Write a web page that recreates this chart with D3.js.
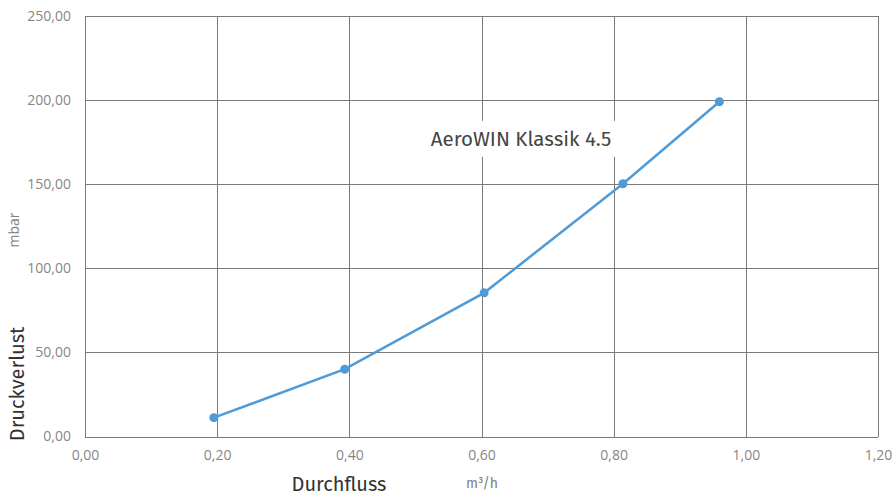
<!DOCTYPE html>
<html>
<head>
<meta charset="utf-8">
<script src="https://cdn.jsdelivr.net/npm/d3@7"></script>
<style>
  html, body { margin: 0; padding: 0; background: #fff; }
  svg { display: block; }
</style>
</head>
<body>
<svg id="chart" width="893" height="500"></svg>
<script>
// Flow rate (m³/h) against pressure loss (mbar)
const flow = [0.195, 0.393, 0.604, 0.814, 0.960];
const pressure = [11.2, 40.0, 85.4, 150.3, 199.0];
const xTicks = [0, 0.2, 0.4, 0.6, 0.8, 1.0, 1.2];
const yTicks = [0, 50, 100, 150, 200, 250];
const seriesName = "AeroWIN Klassik 4.5";

const svg = d3.select("#chart");
const plot = { left: 85, right: 878, top: 16, bottom: 436.5 };

const x = d3.scaleLinear().domain([0, 1.2]).range([plot.left, plot.right]);
const y = d3.scaleLinear().domain([0, 250]).range([plot.bottom, plot.top]);
const fmt = v => d3.format(".2f")(v).replace(".", ",");

const gridColor = "#7a7a7a";
const tickFont = "'Open Sans', 'Noto Sans', sans-serif";
const labelFont = "'Fira Sans', 'Open Sans', sans-serif";

// horizontal gridlines + y labels
const yAxis = d3.axisLeft(y).tickValues(yTicks).tickSize(-(plot.right - plot.left)).tickFormat(fmt).tickPadding(14);
svg.append("g").attr("transform", `translate(${plot.left},0)`).call(yAxis)
  .call(g => g.select(".domain").remove())
  .call(g => g.selectAll("line").attr("stroke", gridColor).attr("shape-rendering", "crispEdges"))
  .call(g => g.selectAll("text").attr("fill", "#868686").style("font-family", tickFont).style("font-size", "14px"));

// vertical gridlines + x labels
const xAxis = d3.axisBottom(x).tickValues(xTicks).tickSize(-(plot.bottom - plot.top)).tickFormat(fmt).tickPadding(14);
svg.append("g").attr("transform", `translate(0,${plot.bottom})`).call(xAxis)
  .call(g => g.select(".domain").remove())
  .call(g => g.selectAll("line").attr("stroke", gridColor).attr("shape-rendering", "crispEdges"))
  .call(g => g.selectAll("text").attr("fill", "#868686").style("font-family", tickFont).style("font-size", "14px"));

// series label with white background box
const lbl = svg.append("g");
const lblText = lbl.append("text")
  .attr("x", 521).attr("y", y(176))
  .attr("text-anchor", "middle")
  .attr("dominant-baseline", "middle")
  .attr("fill", "#454545")
  .style("font-family", labelFont).style("font-size", "20.5px")
  .text(seriesName);
const bb = lblText.node().getBBox();
lbl.insert("rect", "text")
  .attr("x", bb.x - 6).attr("y", bb.y - 6)
  .attr("width", bb.width + 12).attr("height", bb.height + 12)
  .attr("fill", "#fff");

// data line
const line = d3.line().x((d, i) => x(flow[i])).y(d => y(d));
svg.append("path")
  .datum(pressure)
  .attr("d", line)
  .attr("fill", "none")
  .attr("stroke", "#4f9bd8")
  .attr("stroke-width", 2.5);

svg.append("g").selectAll("circle")
  .data(pressure)
  .join("circle")
  .attr("cx", (d, i) => x(flow[i]))
  .attr("cy", d => y(d))
  .attr("r", 4.5)
  .attr("fill", "#4f9bd8");

// axis titles
svg.append("text")
  .attr("transform", `translate(24,384) rotate(-90)`)
  .attr("text-anchor", "middle")
  .attr("fill", "#333")
  .style("font-family", labelFont).style("font-size", "20px")
  .text("Druckverlust");

svg.append("text")
  .attr("transform", `translate(19,230) rotate(-90)`)
  .attr("text-anchor", "middle")
  .attr("fill", "#808080")
  .style("font-family", tickFont).style("font-size", "14px")
  .text("mbar");

svg.append("text")
  .attr("x", 339).attr("y", 491)
  .attr("text-anchor", "middle")
  .attr("fill", "#333")
  .style("font-family", labelFont).style("font-size", "20px")
  .text("Durchfluss");

svg.append("text")
  .attr("x", 482).attr("y", 488)
  .attr("text-anchor", "middle")
  .attr("fill", "#808080")
  .style("font-family", labelFont).style("font-size", "14px")
  .text("m³/h");
</script>
</body>
</html>
